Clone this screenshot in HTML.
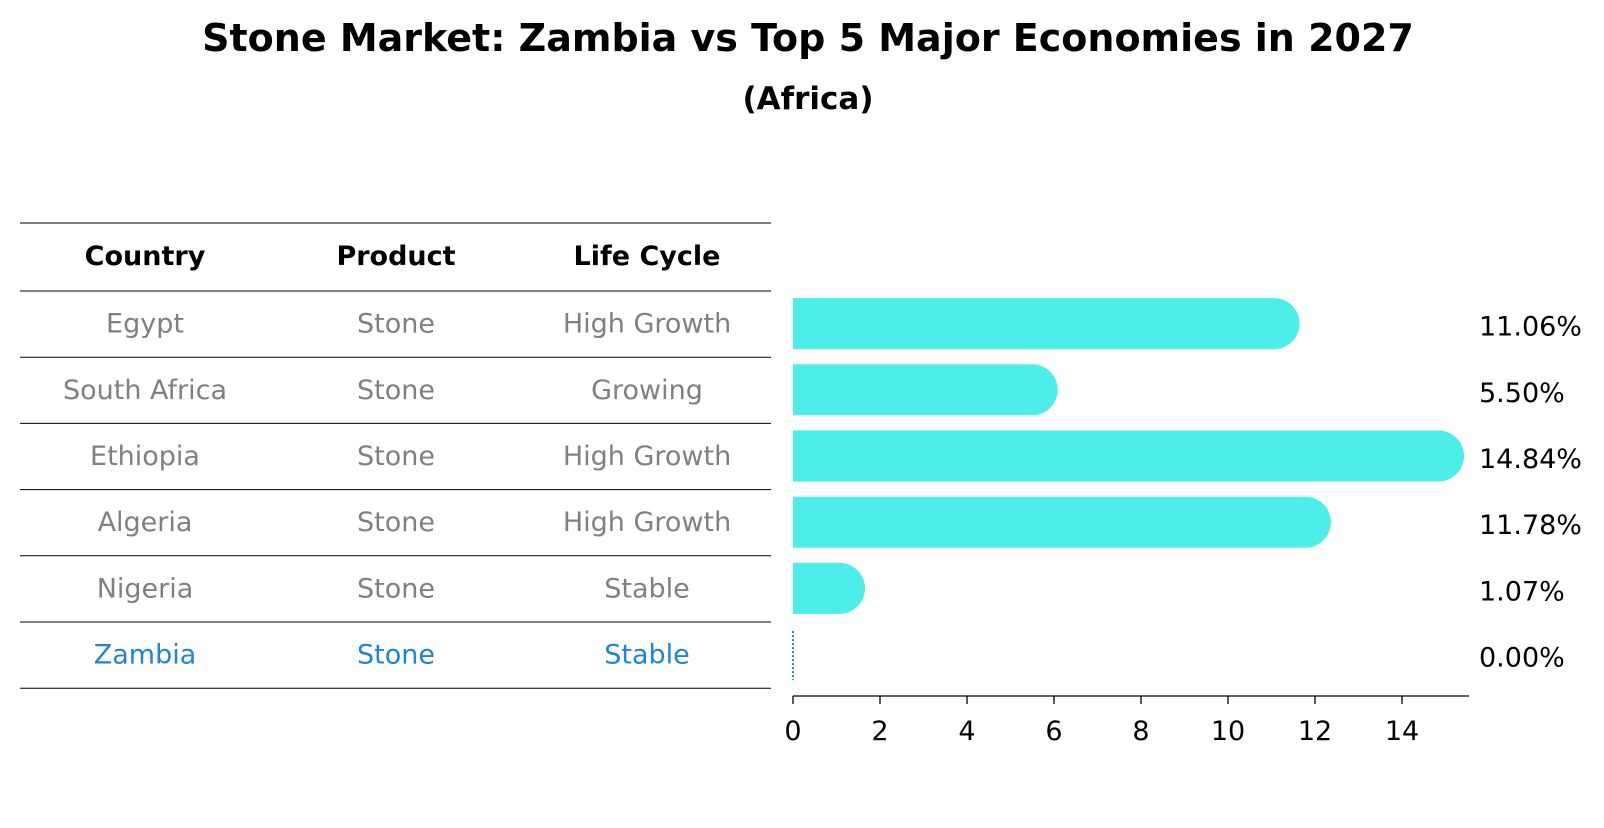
<!DOCTYPE html>
<html><head><meta charset="utf-8"><style>
body{margin:0;background:#fff;font-family:"Liberation Sans","DejaVu Sans",sans-serif;}
</style></head><body>
<svg width="1604" height="823" viewBox="0 0 1604 823" xmlns="http://www.w3.org/2000/svg" font-family="DejaVu Sans, Liberation Sans, sans-serif">
<text x="808" y="51" text-anchor="middle" font-size="38" font-weight="bold">Stone Market: Zambia vs Top 5 Major Economies in 2027</text>
<text x="808" y="109" text-anchor="middle" font-size="31" font-weight="bold">(Africa)</text>
<g id="table"></g>
<g id="bars"></g>
<g id="axis"></g>
</svg>
<script>
const countries=["Egypt","South Africa","Ethiopia","Algeria","Nigeria","Zambia"];
const products=["Stone","Stone","Stone","Stone","Stone","Stone"];
const lifecycle=["High Growth","Growing","High Growth","High Growth","Stable","Stable"];
const values=[11.06,5.50,14.84,11.78,1.07,0.00];
const ticks=[0,2,4,6,8,10,12,14];
const NS="http://www.w3.org/2000/svg";
function mk(t,a,p){const e=document.createElementNS(NS,t);for(const k in a)e.setAttribute(k,a[k]);p.appendChild(e);return e;}
const x0=793,unit=43.5,rowTop=291,rowH=66.2;
const xs=v=>x0+v*unit;
const yc=i=>rowTop+rowH*(i+0.5)-0.5;
const tbl=document.getElementById('table');
const lines=[223,291];for(let i=1;i<=countries.length;i++)lines.push(rowTop+rowH*i);
lines.forEach((y,i)=>{const l=mk('line',{x1:20,x2:771,y1:y,y2:y,stroke:'#000','stroke-width':1},tbl);

});
const cols=[145,396,647];
["Country","Product","Life Cycle"].forEach((h,j)=>{const t=mk('text',{x:cols[j],y:265,'text-anchor':'middle','font-size':27,'font-weight':'bold'},tbl);t.textContent=h;

});
countries.forEach((c,i)=>{const col=i===countries.length-1?'#1f83d8':'#808080';
[c,products[i],lifecycle[i]].forEach((v,j)=>{const t=mk('text',{x:cols[j],y:yc(i)+9,'text-anchor':'middle','font-size':27,fill:col},tbl);t.textContent=v;

});});
const bars=document.getElementById('bars');
const h=51,r=25.5;
values.forEach((v,i)=>{const y=yc(i);
if(v>0){const xe=xs(v);
const p=mk('path',{d:`M${x0},${y-h/2} H${xe} A${r},${r} 0 0 1 ${xe},${y+h/2} H${x0} Z`,fill:'#4deeea'},bars);

}
else{const l=mk('line',{x1:x0,x2:x0,y1:y-h/2+2,y2:y+h/2,stroke:'#1f83d8','stroke-width':2,'stroke-dasharray':'2,2'},bars);

}
const t=mk('text',{x:1479,y:y+12,'font-size':27},bars);t.textContent=v.toFixed(2)+'%';

});
const ax=document.getElementById('axis');
const al=mk('line',{x1:x0,x2:1469,y1:696,y2:696,stroke:'#000','stroke-width':1.3},ax);


ticks.forEach(v=>{const tk=mk('line',{x1:xs(v),x2:xs(v),y1:696,y2:704,stroke:'#000','stroke-width':1.3},ax);


const t=mk('text',{x:xs(v),y:740,'text-anchor':'middle','font-size':27},ax);t.textContent=v;

});
</script>
</body></html>
